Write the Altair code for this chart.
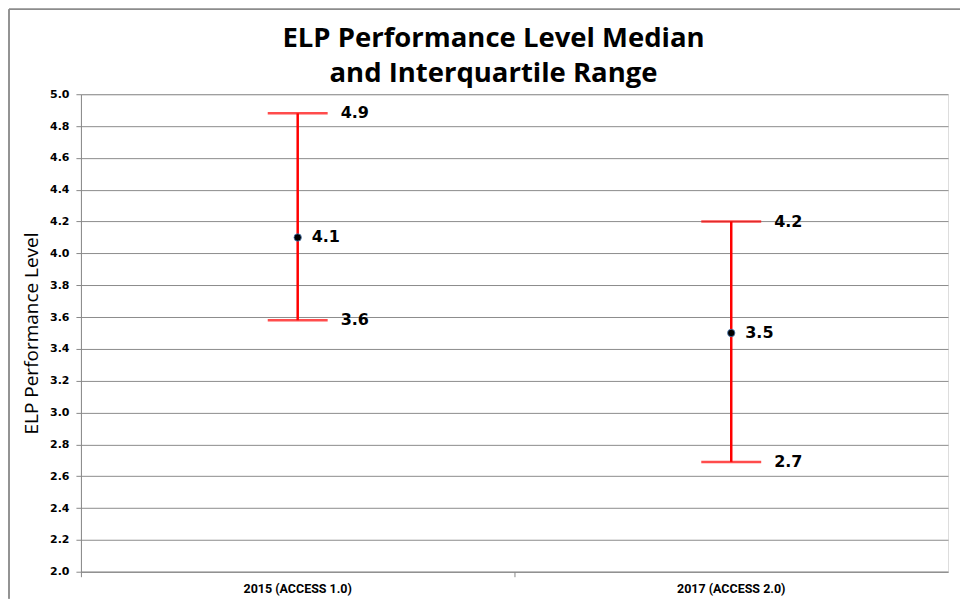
import altair as alt
import pandas as pd

title_lines = ["ELP Performance Level Median", "and Interquartile Range"]
categories = ["2015 (ACCESS 1.0)", "2017 (ACCESS 2.0)"]
q1 = [3.58, 2.69]
median = [4.1, 3.5]
q3 = [4.88, 4.2]
y_ticks = [2.0, 2.2, 2.4, 2.6, 2.8, 3.0, 3.2, 3.4, 3.6, 3.8, 4.0, 4.2, 4.4, 4.6, 4.8, 5.0]

df = pd.DataFrame({"cat": categories, "q1": q1, "median": median, "q3": q3})

RED = "#ff0000"
x = alt.X("cat:N", title=None, sort=categories,
          scale=alt.Scale(paddingInner=0, paddingOuter=0),
          axis=alt.Axis(labelAngle=0, labelFont="Roboto", labelFontWeight="bold",
                        labelFontSize=12.5, labelColor="#000", labelPadding=6,
                        domainColor="#888", tickColor="#888", tickSize=5,
                        bandPosition=0, grid=False))
yscale = alt.Scale(domain=[2.0, 5.0], nice=False, zero=False)
yaxis = alt.Axis(values=y_ticks, format=".1f", labelOverlap=False,
                 labelFont="DejaVu Sans", labelFontWeight="bold", labelFontSize=11,
                 labelColor="#000", labelPadding=7, tickSize=5, tickColor="#888",
                 domainColor="#888", gridColor="#8c8c8c", gridWidth=1,
                 title="ELP Performance Level", titleFont="Open Sans",
                 titleFontWeight="normal", titleFontSize=19, titleColor="#000",
                 titlePadding=8)


def Y(field):
    return alt.Y(field, scale=yscale, axis=yaxis)


base = alt.Chart(df)

frame_top = base.mark_rule(color="#8c8c8c", strokeWidth=1.5).encode(
    x=alt.value(-72), x2=alt.value(880), y=alt.value(-85))
frame_left = base.mark_rule(color="#8c8c8c", strokeWidth=1.5).encode(
    x=alt.value(-72), y=alt.value(-85), y2=alt.value(505))

title_style = dict(font="Open Sans", fontWeight="bold", fontSize=27.5, color="#000",
                   align="center", baseline="alphabetic")
title1 = alt.Chart(pd.DataFrame({"t": [title_lines[0]]})).mark_text(**title_style).encode(
    x=alt.value(413), y=alt.value(-47), text="t:N")
title2 = alt.Chart(pd.DataFrame({"t": [title_lines[1]]})).mark_text(**title_style).encode(
    x=alt.value(413), y=alt.value(-12), text="t:N")

rule = base.mark_rule(color=RED, strokeWidth=2.5).encode(
    x=x, y=Y("q1:Q"), y2="q3:Q")
cap_lo = base.mark_tick(color=RED, size=60, thickness=2.5, orient="horizontal").encode(
    x=x, y=Y("q1:Q"))
cap_hi = base.mark_tick(color=RED, size=60, thickness=2.5, orient="horizontal").encode(
    x=x, y=Y("q3:Q"))
pt = base.mark_point(filled=True, color="#000", size=55, opacity=1,
                     stroke="#4f81bd", strokeWidth=0.8).encode(
    x=x, y=Y("median:Q"))

tstyle = dict(font="DejaVu Sans", fontWeight="bold", fontSize=16, color="#000",
              align="left", baseline="middle")
t_lo = base.mark_text(dx=43, **tstyle).encode(
    x=x, y=Y("q1:Q"), text=alt.Text("q1:Q", format=".1f"))
t_hi = base.mark_text(dx=43, **tstyle).encode(
    x=x, y=Y("q3:Q"), text=alt.Text("q3:Q", format=".1f"))
t_med = base.mark_text(dx=14, **tstyle).encode(
    x=x, y=Y("median:Q"), text=alt.Text("median:Q", format=".1f"))

chart = alt.layer(frame_top, frame_left, rule, cap_lo, cap_hi, pt,
                  t_lo, t_hi, t_med, title1, title2).properties(
    width=868, height=478,
    padding=0,
).configure_view(stroke=None).configure(background="#ffffff")

chart.save("out.html", embed_options={"renderer": "svg", "actions": False})
